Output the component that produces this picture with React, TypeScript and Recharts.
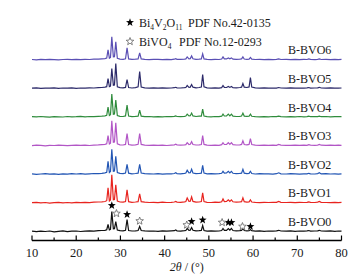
import React from 'react';
import { LineChart, Line, XAxis, YAxis, ReferenceDot } from 'recharts';

// 2θ sampling points (degrees)
const twoTheta = [
  10, 11, 12, 13, 14, 15, 16, 17, 18, 19,
  20, 21, 22, 23, 24, 25, 25.8, 26.5, 26.9, 27.2,
  27.5, 27.75, 28.05, 28.4, 28.65, 28.95, 29.3, 29.9, 30.6, 31.15,
  31.5, 31.85, 32.6, 33.4, 34.0, 34.35, 34.7, 35.5, 36.5, 37.5,
  38.5, 39.5, 40.5, 41.5, 42.2, 42.5, 42.8, 43.6, 44.5, 44.8,
  45.1, 45.5, 45.8, 46.1, 46.4, 47.1, 47.8, 48.3, 48.6, 48.9,
  49.6, 50.5, 51.4, 52.3, 52.9, 53.2, 53.5, 54.0, 54.4, 54.75,
  55.1, 55.45, 56.2, 57.0, 57.4, 57.7, 58.0, 58.6, 59.1, 59.4,
  59.7, 60.5, 61.5, 62.5, 63.5, 64.5, 65.3, 65.8, 66.3, 67.5,
  68.5, 69.5, 70.5, 71.5, 72.2, 72.6, 73.0, 74.0, 74.6, 75.0,
  75.4, 76.5, 77.5, 78.5, 79.3, 80,
];

// intensities (a.u.)
const bvo0 = [
  0.3, -0.2, 0.4, 0, 0.5, -0.3, 0.2, 0.6, -0.1, 0.3,
  0.5, 0, 0.4, 0.7, 0.3, 0.8, 1.0, 1.2, 1.8, 7,
  1.6, 2.2, 20, 2.6, 2.8, 10, 1.5, 0.8, 0.6, 1.2,
  12, 1.0, 0.5, 0.7, 1.0, 5, 1.0, 0.6, 0.3, 0.5,
  0.2, 0.6, 0.3, 0.7, 0.8, 1.5, 0.7, 0.4, 0.8, 1.0,
  3, 1.2, 1.4, 4, 1.2, 0.6, 0.8, 1.0, 6, 1.0,
  0.4, 0.6, 0.3, 0.5, 1.0, 3, 1.2, 1.2, 3, 1.3,
  3, 1.0, 0.6, 0.8, 1.0, 3, 1.0, 0.7, 0.9, 2,
  0.8, 0.4, 0.6, 0.2, 0.5, 0.3, 0.6, 1.2, 0.5, 0.3,
  0.6, 0.2, 0.5, 0.3, 0.6, 1.0, 0.4, 0.5, 0.7, 1.2,
  0.5, 0.3, 0.6, 0.2, 0.5, 0.4,
];
const bvo1 = [
  0.2, 0.5, 0, 0.4, -0.2, 0.3, 0.6, 0.1, 0.4, 0,
  0.5, 0.2, 0.6, 0.3, 0.7, 0.9, 1.1, 1.4, 2.2, 15,
  2, 3, 28, 3.2, 3.4, 18, 1.8, 0.9, 0.7, 1.4,
  13, 1.2, 0.6, 0.9, 1.3, 9, 1.2, 0.7, 0.4, 0.6,
  0.3, 0.7, 0.4, 0.6, 0.9, 1.5, 0.8, 0.6, 1.0, 1.4,
  5, 1.6, 1.8, 6, 1.5, 0.8, 0.9, 1.3, 10, 1.3,
  0.6, 0.4, 0.7, 0.5, 1.1, 4, 1.3, 1.4, 3, 1.5,
  3, 1.1, 0.7, 1.0, 1.3, 5, 1.2, 0.8, 1.0, 3,
  0.9, 0.5, 0.3, 0.6, 0.4, 0.6, 0.5, 1.5, 0.6, 0.4,
  0.5, 0.3, 0.6, 0.4, 0.5, 1.0, 0.6, 0.4, 0.8, 1.5,
  0.6, 0.4, 0.2, 0.5, 0.3, 0.5,
];
const bvo2 = [
  0.4, 0, 0.3, 0.6, 0.1, 0.4, -0.1, 0.5, 0.2, 0.6,
  0.3, 0.6, 0.2, 0.5, 0.8, 0.7, 1.0, 1.5, 2.0, 13,
  1.8, 2.8, 25, 3.0, 3.2, 18, 1.7, 0.9, 0.6, 1.3,
  10, 1.1, 0.5, 0.8, 1.2, 10, 1.2, 0.6, 0.5, 0.3,
  0.6, 0.2, 0.5, 0.4, 0.8, 1.5, 0.7, 0.5, 0.9, 1.2,
  4, 1.4, 1.6, 5, 1.3, 0.7, 0.8, 1.1, 9, 1.2,
  0.5, 0.7, 0.4, 0.6, 1.0, 3, 1.2, 1.3, 3, 1.4,
  3, 1.0, 0.6, 0.9, 1.2, 5, 1.1, 0.7, 0.9, 3,
  0.8, 0.3, 0.6, 0.4, 0.5, 0.2, 0.6, 1.5, 0.5, 0.3,
  0.6, 0.4, 0.2, 0.5, 0.4, 1.0, 0.5, 0.3, 0.7, 1.5,
  0.4, 0.6, 0.3, 0.5, 0.2, 0.4,
];
const bvo3 = [
  0.1, 0.5, 0.3, -0.1, 0.4, 0.2, 0.6, 0.3, 0, 0.4,
  0.6, 0.3, 0.5, 0.2, 0.6, 0.8, 1.1, 1.3, 1.9, 10,
  1.7, 2.6, 25, 3.4, 3.6, 23, 1.9, 0.9, 0.7, 1.3,
  12, 1.2, 0.6, 0.8, 1.4, 12, 1.3, 0.6, 0.3, 0.6,
  0.4, 0.5, 0.2, 0.6, 0.9, 1.5, 0.8, 0.5, 0.8, 1.0,
  3, 1.2, 1.4, 4, 1.2, 0.7, 0.9, 1.2, 10, 1.3,
  0.6, 0.4, 0.6, 0.3, 1.0, 3, 1.2, 1.3, 3, 1.4,
  3, 1.0, 0.7, 0.9, 1.3, 5, 1.2, 0.9, 1.3, 7,
  1.2, 0.5, 0.3, 0.6, 0.4, 0.5, 0.3, 1.2, 0.6, 0.4,
  0.3, 0.6, 0.4, 0.5, 0.3, 1.0, 0.6, 0.4, 0.6, 1.2,
  0.5, 0.3, 0.6, 0.4, 0.5, 0.3,
];
const bvo4 = [
  0.5, 0.2, 0.6, 0.3, 0, 0.5, 0.3, 0.1, 0.6, 0.2,
  0.4, 0.7, 0.3, 0.6, 0.4, 0.8, 1.0, 1.3, 1.8, 10,
  1.6, 2.4, 23, 2.8, 3.0, 17, 1.6, 0.8, 0.6, 1.2,
  12, 1.1, 0.5, 0.7, 1.0, 7, 1.0, 0.5, 0.6, 0.2,
  0.5, 0.3, 0.6, 0.4, 0.7, 1.2, 0.6, 0.4, 0.8, 1.1,
  3, 1.2, 1.4, 4, 1.2, 0.6, 0.9, 1.0, 8, 1.1,
  0.5, 0.3, 0.6, 0.4, 0.9, 3, 1.1, 1.2, 3, 1.3,
  3, 0.9, 0.6, 0.8, 1.1, 4, 1.0, 0.7, 0.9, 3,
  0.8, 0.4, 0.2, 0.5, 0.3, 0.6, 0.4, 1.0, 0.5, 0.3,
  0.5, 0.2, 0.6, 0.3, 0.5, 1.0, 0.4, 0.6, 0.5, 1.0,
  0.4, 0.6, 0.3, 0.5, 0.4, 0.5,
];
const bvo5 = [
  0.3, 0.6, 0.1, 0.4, 0.3, 0.7, 0.2, 0.5, 0.3, 0.6,
  0.2, 0.5, 0.4, 0.7, 0.5, 0.9, 1.0, 1.4, 1.8, 10,
  1.8, 2.3, 20, 3.2, 3.4, 25, 1.8, 0.9, 0.6, 1.1,
  9, 1.0, 0.5, 0.9, 1.6, 17, 1.4, 0.7, 0.4, 0.6,
  0.3, 0.6, 0.4, 0.5, 0.8, 1.2, 0.7, 0.5, 0.8, 1.0,
  3, 1.2, 1.4, 4, 1.3, 0.7, 1.0, 1.5, 14, 1.6,
  0.7, 0.4, 0.6, 0.3, 0.9, 3, 1.1, 1.0, 2, 1.1,
  2, 0.8, 0.7, 1.0, 1.3, 5, 1.3, 1.0, 1.6, 11,
  1.5, 0.6, 0.4, 0.6, 0.3, 0.5, 0.4, 1.0, 0.5, 0.3,
  0.6, 0.4, 0.5, 0.3, 0.6, 1.0, 0.4, 0.5, 0.7, 1.2,
  0.5, 0.3, 0.6, 0.4, 0.3, 0.5,
];
const bvo6 = [
  0.4, 0.1, 0.5, 0.2, 0.6, 0.3, 0, 0.4, 0.5, 0.2,
  0.6, 0.3, 0.5, 0.4, 0.7, 0.8, 1.1, 1.3, 1.9, 10,
  1.7, 2.5, 23, 3.0, 3.2, 18, 1.6, 0.8, 0.6, 1.1,
  12, 1.0, 0.5, 0.7, 1.0, 7, 1.0, 0.6, 0.3, 0.5,
  0.6, 0.3, 0.5, 0.2, 0.7, 1.2, 0.6, 0.5, 0.8, 1.0,
  3, 1.1, 1.3, 4, 1.1, 0.6, 0.8, 1.0, 6, 1.0,
  0.5, 0.3, 0.6, 0.4, 0.9, 3, 1.0, 1.0, 2, 1.1,
  2, 0.8, 0.5, 0.7, 1.0, 3, 0.9, 0.6, 0.8, 2.5,
  0.7, 0.4, 0.6, 0.3, 0.5, 0.2, 0.5, 1.0, 0.4, 0.6,
  0.3, 0.5, 0.2, 0.6, 0.4, 1.0, 0.5, 0.3, 0.6, 1.0,
  0.4, 0.5, 0.2, 0.6, 0.3, 0.5,
];

const seriesNames = ['B-BVO0', 'B-BVO1', 'B-BVO2', 'B-BVO3', 'B-BVO4', 'B-BVO5', 'B-BVO6'];
const seriesValues = [bvo0, bvo1, bvo2, bvo3, bvo4, bvo5, bvo6];
const seriesColors = ['#111111', '#e8241f', '#2356b4', '#b256c6', '#2f8c3c', '#2c2a6a', '#5a4fb4'];
// vertical offset of each pattern in the stack
const stackOffset = [9, 37.6, 66.2, 94.8, 123.4, 152, 180.6];

const xTicks = [10, 15, 20, 25, 30, 35, 40, 45, 50, 55, 60, 65, 70, 75, 80];

// phase markers on B-BVO0 (2θ, height above its baseline)
const bi4v2o11X = [28.05, 31.5, 46.1, 48.6, 54.4, 55.1, 59.4];
const bi4v2o11Y = [26, 17, 10, 11.5, 9, 9, 5];
const bivo4X = [29.1, 34.35, 45.0, 53.0, 57.6];
const bivo4Y = [18, 10.5, 6.5, 9, 5];

const FONT = '"Liberation Serif", "Times New Roman", serif';

const table = twoTheta.map((t, i) => {
  const row: any = { t };
  seriesValues.forEach((vals, s) => {
    row['s' + s] = vals[i] + stackOffset[s];
  });
  return row;
});

const starPoints = (cx: number, cy: number, R: number, r: number) => {
  const pts: string[] = [];
  for (let k = 0; k < 10; k++) {
    const a = -Math.PI / 2 + (k * Math.PI) / 5;
    const rad = k % 2 ? r : R;
    pts.push(`${cx + rad * Math.cos(a)},${cy + rad * Math.sin(a)}`);
  }
  return pts.join(' ');
};

const FilledStar = (p: any) => <polygon points={starPoints(p.cx, p.cy, 4.2, 1.7)} fill="#000" />;
const OpenStar = (p: any) => (
  <polygon points={starPoints(p.cx, p.cy, 4.0, 1.7)} fill="#fff" stroke="#666" strokeWidth={0.8} />
);

const renderTick = (props: any) => {
  const { x, y, payload } = props;
  const major = payload.value % 10 === 0;
  return (
    <g>
      <line x1={x} y1={y} x2={x} y2={y - (major ? 5 : 3)} stroke="#000" strokeWidth={1.2} />
      {major && (
        <text x={x} y={y + 16.5} textAnchor="middle" fontSize={12.5} fontFamily={FONT} fill="#1a1a1a">
          {payload.value}
        </text>
      )}
    </g>
  );
};

const AxisTitle = (props: any) => {
  const { x, y, width } = props.viewBox;
  return (
    <text x={x + width / 2} y={y + 30.5} textAnchor="middle" fontSize={12} fontFamily={FONT} fill="#1a1a1a">
      <tspan fontStyle="italic">2θ</tspan> / (°)
    </text>
  );
};

const XrdChart: React.FC = () => {
  return (
    <div style={{ position: 'absolute', left: 0, top: 0, width: 360, height: 280, background: '#fff' }}>
      <LineChart width={360} height={280} data={table} margin={{ top: 12, right: 18.5, left: 32, bottom: 0 }}>
        <XAxis
          dataKey="t"
          type="number"
          domain={[10, 80]}
          ticks={xTicks}
          interval={0}
          height={39.5}
          tickSize={0}
          tickMargin={0}
          tickLine={false}
          tick={renderTick}
          axisLine={{ stroke: '#000', strokeWidth: 1.3 }}
          label={{ content: AxisTitle }}
        />
        <XAxis
          xAxisId="top"
          orientation="top"
          type="number"
          domain={[10, 80]}
          height={0}
          tick={false}
          tickLine={false}
          axisLine={{ stroke: '#000', strokeWidth: 1.3 }}
        />
        <YAxis
          type="number"
          domain={[0, 228.5]}
          width={0}
          tick={false}
          tickLine={false}
          axisLine={{ stroke: '#000', strokeWidth: 1.3 }}
        />
        <YAxis
          yAxisId="right"
          orientation="right"
          type="number"
          domain={[0, 228.5]}
          width={0}
          tick={false}
          tickLine={false}
          axisLine={{ stroke: '#000', strokeWidth: 1.3 }}
        />
        {seriesNames.map((name, s) => (
          <Line
            key={name}
            type="linear"
            dataKey={'s' + s}
            stroke={seriesColors[s]}
            strokeWidth={1.2}
            dot={false}
            isAnimationActive={false}
          />
        ))}
        {seriesNames.map((name, s) => (
          <ReferenceDot
            key={'lbl' + s}
            x={77.7}
            y={stackOffset[s] + 5.5}
            r={0}
            shape={(p: any) => (
              <text x={p.cx} y={p.cy} textAnchor="end" fontSize={12} fontFamily={FONT} fill="#1a1a1a">
                {name}
              </text>
            )}
          />
        ))}
        {bi4v2o11X.map((x, i) => (
          <ReferenceDot key={'f' + i} x={x} y={stackOffset[0] + bi4v2o11Y[i]} r={0} shape={FilledStar} />
        ))}
        {bivo4X.map((x, i) => (
          <ReferenceDot key={'o' + i} x={x} y={stackOffset[0] + bivo4Y[i]} r={0} shape={OpenStar} />
        ))}
      </LineChart>
      <svg width={360} height={60} style={{ position: 'absolute', left: 0, top: 0, pointerEvents: 'none' }}>
        <polygon points={starPoints(130, 22.5, 4.2, 1.7)} fill="#000" />
        <text x={139} y={27} fontSize={12} fontFamily={FONT} fill="#1a1a1a">
          Bi<tspan dy={2.5} fontSize={7.5}>4</tspan>
          <tspan dy={-2.5}>V</tspan>
          <tspan dy={2.5} fontSize={7.5}>2</tspan>
          <tspan dy={-2.5}>O</tspan>
          <tspan dy={2.5} fontSize={7.5}>11</tspan>
        </text>
        <text x={188} y={27} fontSize={12} fontFamily={FONT} fill="#1a1a1a">PDF No.42-0135</text>
        <polygon points={starPoints(130, 41.5, 4.0, 1.7)} fill="#fff" stroke="#666" strokeWidth={0.8} />
        <text x={139} y={46} fontSize={12} fontFamily={FONT} fill="#1a1a1a">
          BiVO<tspan dy={2.5} fontSize={7.5}>4</tspan>
        </text>
        <text x={179} y={46} fontSize={12} fontFamily={FONT} fill="#1a1a1a">PDF No.12-0293</text>
      </svg>
    </div>
  );
};

export default XrdChart;
